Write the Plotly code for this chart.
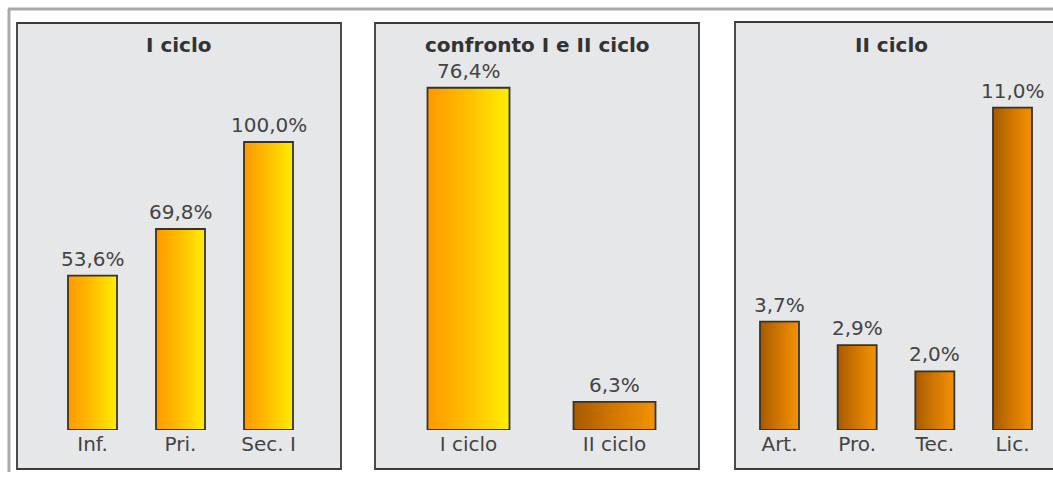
import plotly.graph_objects as go

W, H = 1053, 477

# ---- data ----
cat1 = ["Inf.", "Pri.", "Sec. I"]
val1 = [53.6, 69.8, 100.0]
lab1 = ["53,6%", "69,8%", "100,0%"]

cat2 = ["I ciclo", "II ciclo"]
val2 = [76.4, 6.3]
lab2 = ["76,4%", "6,3%"]

cat3 = ["Art.", "Pro.", "Tec.", "Lic."]
val3 = [3.7, 2.9, 2.0, 11.0]
lab3 = ["3,7%", "2,9%", "2,0%", "11,0%"]

titles = ["I ciclo", "confronto I e II ciclo", "II ciclo"]

YELLOW = [[0, "#ff9800"], [0.5, "#ffc000"], [1, "#ffee00"]]
BROWN = [[0, "#a65a00"], [0.5, "#d27800"], [1, "#f59200"]]

FONT = "DejaVu Sans, Arial"
TXT = "#444444"

# panel layouts (pixels): panel rect, first/last category centre, bar width(px), px per unit
panels = [
    dict(rect=(17, 23, 341, 469), c0=92.5, c1=268.5, bw=49, ppu=2.88, tx=179,
         cats=cat1, vals=val1, labs=lab1, grads=[YELLOW, YELLOW, YELLOW]),
    dict(rect=(375, 23, 699, 469), c0=468.5, c1=614.5, bw=82, ppu=4.48, tx=537,
         cats=cat2, vals=val2, labs=lab2, grads=[YELLOW, BROWN]),
    dict(rect=(735, 22, 1060, 469), c0=779.5, c1=1012.5, bw=39, ppu=29.3, tx=891,
         cats=cat3, vals=val3, labs=lab3, grads=[BROWN] * 4),
]
BASE = 430  # baseline pixel row

fig = go.Figure()

def px(x):
    return x / W

def py(y):
    return 1 - y / H

shapes = []
# outer frame
shapes.append(dict(type="line", xref="paper", yref="paper", x0=px(8), x1=px(1060),
                   y0=py(9), y1=py(9), line=dict(color="#a7a9ac", width=3), layer="below"))
shapes.append(dict(type="line", xref="paper", yref="paper", x0=px(9), x1=px(9),
                   y0=py(9), y1=py(472), line=dict(color="#a7a9ac", width=3), layer="below"))

annotations = []
layout_axes = {}
for k, p in enumerate(panels):
    L, T, R, B = p["rect"]
    shapes.append(dict(type="rect", xref="paper", yref="paper", x0=px(L), x1=px(R),
                       y0=py(B), y1=py(T), fillcolor="#e6e7e9",
                       line=dict(color="#3a3a3a", width=1.8), layer="below"))
    n = len(p["cats"])
    dl, dr = L + 2, min(R - 2, W)
    spacing = (p["c1"] - p["c0"]) / (n - 1)
    xr = [-(p["c0"] - dl) / spacing, (n - 1) + (dr - p["c1"]) / spacing]
    w = p["bw"] / spacing
    yr = [0, (BASE - T) / p["ppu"]]
    xa = "x" if k == 0 else f"x{k+1}"
    ya = "y" if k == 0 else f"y{k+1}"
    for i, (v, g) in enumerate(zip(p["vals"], p["grads"])):
        fig.add_trace(go.Scatter(
            x=[i - w / 2, i + w / 2, i + w / 2, i - w / 2, i - w / 2],
            y=[0, 0, v, v, 0], mode="lines", fill="toself",
            fillgradient=dict(type="horizontal", colorscale=g),
            line=dict(color="#333333", width=1.8),
            xaxis=xa, yaxis=ya, showlegend=False, hoverinfo="skip"))
        annotations.append(dict(
            text=p["labs"][i], xref=xa, yref=ya, x=i, y=v,
            xanchor="center", yanchor="bottom", yshift=3, showarrow=False,
            font=dict(family=FONT, size=20, color=TXT)))
    sfx = "" if k == 0 else str(k + 1)
    layout_axes["xaxis" + sfx] = dict(
        domain=[px(dl), px(dr)], range=xr, showgrid=False, zeroline=False,
        showline=False, tickmode="array", tickvals=list(range(n)), ticktext=p["cats"],
        ticks="",
        tickfont=dict(family=FONT, size=20, color=TXT),
        anchor=ya, fixedrange=True)
    layout_axes["yaxis" + sfx] = dict(
        domain=[py(BASE), py(T)], range=yr, showgrid=False, zeroline=False,
        showline=False, showticklabels=False, anchor=xa, fixedrange=True)
    annotations.append(dict(
        text="<b>" + titles[k] + "</b>", xref="paper", yref="paper",
        x=px(p["tx"]), y=py(45),
        xanchor="center", yanchor="middle", showarrow=False,
        font=dict(family=FONT, size=20, color="#333333")))

fig.update_layout(
    width=W, height=H, margin=dict(l=0, r=0, t=0, b=0),
    paper_bgcolor="white", plot_bgcolor="rgba(0,0,0,0)",
    shapes=shapes, annotations=annotations, showlegend=False,
    **layout_axes)

fig.write_html("out.html")
